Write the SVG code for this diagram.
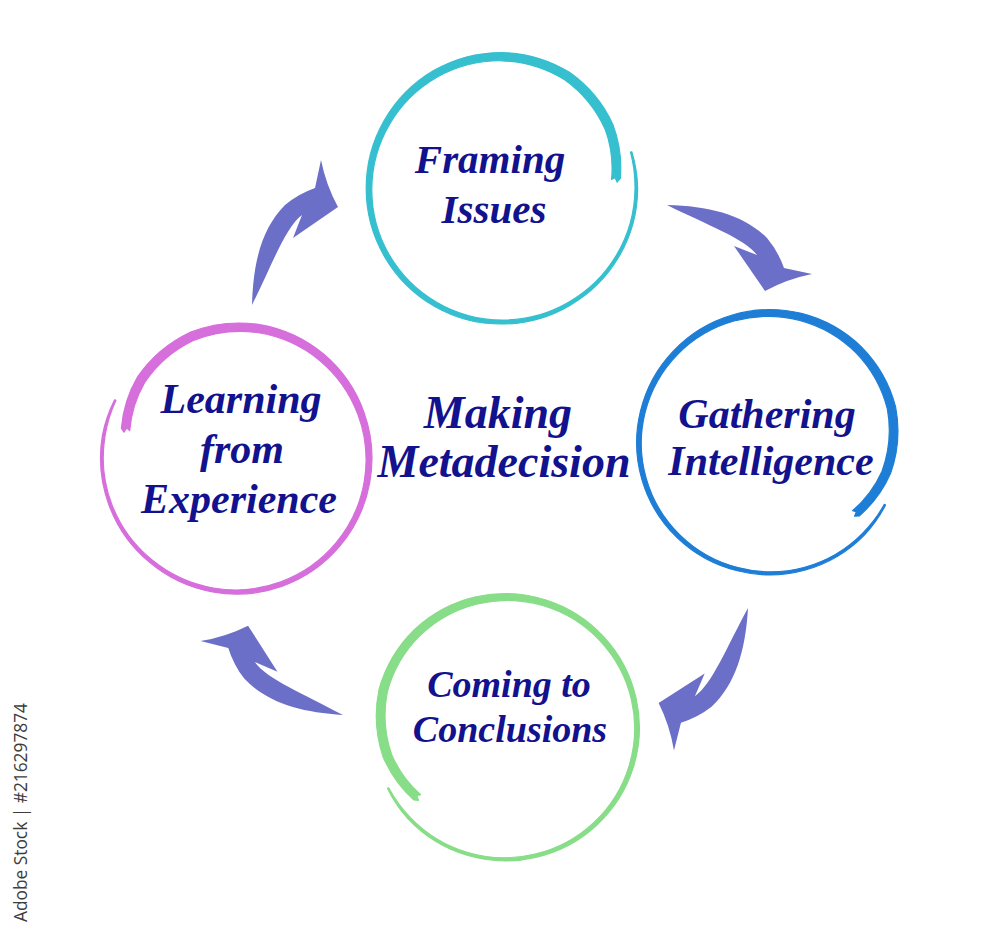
<svg xmlns="http://www.w3.org/2000/svg" width="1000" height="938" viewBox="0 0 1000 938">
  <style>
    .lbl { font-family: "Liberation Serif", "Times New Roman", serif; font-weight: bold; font-style: italic; fill: #12128e; text-anchor: middle; }
    .arrow { fill: #6c6fc8; }
    .ring { stroke-width: 0.9; stroke-linejoin: round; }
    .wm { font-family: "Open Sans", "Liberation Sans", sans-serif; fill: #3c3c3c; }
  </style>
  <defs>
    <path id="ring" d="M 97.6,-28 A 101 101 0 0 1 102,0 A 102 102 0 0 1 88,50.8 A 101.5 101.5 0 0 1 50.7,87.7 A 101.5 101.5 0 0 1 0,101.5 A 101.6 101.6 0 0 1 -50.9,88.1 A 101.8 101.8 0 0 1 -88.2,51 A 102 102 0 0 1 -102.1,0 A 102.2 102.2 0 0 1 -88.7,-51.2 A 102.6 102.6 0 0 1 -51.4,-89 A 102.7 102.7 0 0 1 0,-102.6 A 102 102 0 0 1 50.7,-87.7 A 98 98 0 0 1 83.5,-48.2 A 92 92 0 0 1 88.9,-7.8 L 86.5,-5.2 L 85,-8.6 L 82.4,-7.2 A 86 86 0 0 0 77.6,-44.8 A 92 92 0 0 0 47.4,-82 A 96 96 0 0 0 0,-96.4 A 97 97 0 0 0 -48.6,-84.2 A 97.5 97.5 0 0 0 -84.5,-48.8 A 97.8 97.8 0 0 0 -97.9,0 A 98 98 0 0 0 -85,49.1 A 98.2 98.2 0 0 0 -49.2,85.1 A 98.4 98.4 0 0 0 0,98.5 A 98.6 98.6 0 0 0 49.4,85.5 A 99 99 0 0 0 86.1,49.7 A 99.7 99.7 0 0 0 100,0 A 100.2 100.2 0 0 0 96.6,-27.7 Z"/>
    <path id="arr" d="M 0,0 C 1,-43 10,-77 33,-100 Q 46,-111 63,-117 L 69,-145 Q 74,-120 86,-98 L 41,-67 L 50,-90 C 33,-77 20,-40 0,0 Z"/>
  </defs>

  <g id="connectors">
    <use href="#arr" class="arrow" transform="translate(252,305)"/>
    <use href="#arr" class="arrow" transform="translate(667,205) rotate(90)"/>
    <use href="#arr" class="arrow" transform="translate(748,608) rotate(182)"/>
    <use href="#arr" class="arrow" transform="translate(343,715) rotate(-88)"/>
  </g>

  <g id="node-framing">
    <use href="#ring" class="ring" fill="#36bfcf" stroke="#36bfcf" transform="translate(502,189) scale(1.33)"/>
    <text class="lbl" x="490" y="173" font-size="41">Framing</text>
    <text class="lbl" x="494" y="223" font-size="41">Issues</text>
  </g>

  <g id="node-gathering">
    <use href="#ring" class="ring" fill="#1e7ed6" stroke="#1e7ed6" transform="translate(769,443) rotate(44) scale(1.30)"/>
    <text class="lbl" x="767" y="428" font-size="42">Gathering</text>
    <text class="lbl" x="771" y="475" font-size="42">Intelligence</text>
  </g>

  <g id="node-coming">
    <use href="#ring" class="ring" fill="#88dd88" stroke="#88dd88" transform="translate(506,728) rotate(-43) scale(-1.31,1.31)"/>
    <text class="lbl" x="509" y="697" font-size="38">Coming to</text>
    <text class="lbl" x="510" y="742" font-size="38">Conclusions</text>
  </g>

  <g id="node-learning">
    <use href="#ring" class="ring" fill="#d66edc" stroke="#d66edc" transform="translate(236,459) rotate(10) scale(-1.33,1.33)"/>
    <text class="lbl" x="241" y="413" font-size="42">Learning</text>
    <text class="lbl" x="242" y="463" font-size="42">from</text>
    <text class="lbl" x="239" y="513" font-size="42">Experience</text>
  </g>

  <g id="node-center">
    <text class="lbl" x="498" y="428" font-size="46">Making</text>
    <text class="lbl" x="504" y="477" font-size="46">Metadecision</text>
  </g>

  <text class="wm" x="0" y="0" font-size="19" textLength="219" lengthAdjust="spacingAndGlyphs" transform="translate(27,922) rotate(-90)">Adobe Stock | #216297874</text>
</svg>
